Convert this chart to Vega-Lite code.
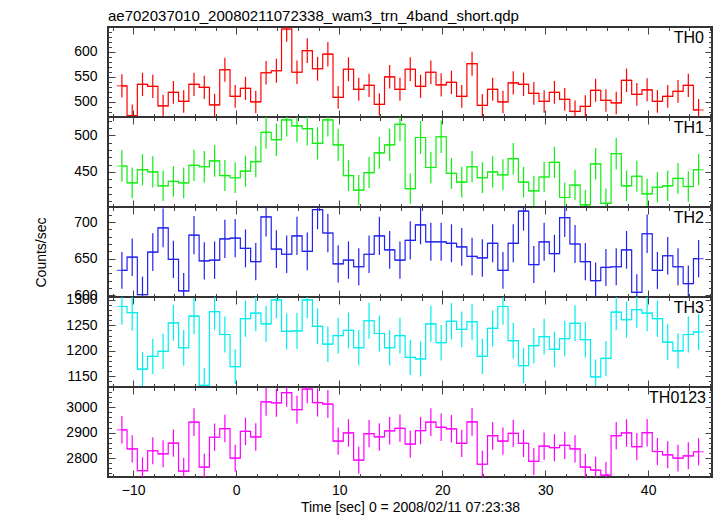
{
"$schema": "https://vega.github.io/schema/vega-lite/v6.json",
"background": "white",
"padding": {"left": 33, "top": 8, "right": 6, "bottom": 1},
"spacing": 0,
"bounds": "flush",
"datasets": {
"th0": [{"t":-11.1,"rate":532,"err":23.1},{"t":-10.1,"rate":473,"err":21.7},{"t":-9.1,"rate":535,"err":23.1},{"t":-8.1,"rate":531,"err":23.0},{"t":-7.1,"rate":492,"err":22.2},{"t":-6.1,"rate":519,"err":22.8},{"t":-5.1,"rate":501,"err":22.4},{"t":-4.1,"rate":535,"err":23.1},{"t":-3.1,"rate":529,"err":23.0},{"t":-2.1,"rate":494,"err":22.2},{"t":-1.1,"rate":564,"err":23.7},{"t":-0.1,"rate":511,"err":22.6},{"t":0.9,"rate":527,"err":23.0},{"t":1.9,"rate":500,"err":22.4},{"t":2.9,"rate":558,"err":23.6},{"t":3.9,"rate":562,"err":23.7},{"t":4.9,"rate":645,"err":25.4},{"t":5.9,"rate":559,"err":23.6},{"t":6.9,"rate":602,"err":24.5},{"t":7.9,"rate":566,"err":23.8},{"t":8.9,"rate":595,"err":24.4},{"t":9.9,"rate":509,"err":22.6},{"t":10.9,"rate":565,"err":23.8},{"t":11.9,"rate":525,"err":22.9},{"t":12.9,"rate":533,"err":23.1},{"t":13.9,"rate":495,"err":22.2},{"t":14.9,"rate":550,"err":23.5},{"t":15.9,"rate":525,"err":22.9},{"t":16.9,"rate":565,"err":23.8},{"t":17.9,"rate":531,"err":23.0},{"t":18.9,"rate":559,"err":23.6},{"t":19.9,"rate":534,"err":23.1},{"t":20.9,"rate":539,"err":23.2},{"t":21.9,"rate":511,"err":22.6},{"t":22.9,"rate":576,"err":24.0},{"t":23.9,"rate":493,"err":22.2},{"t":24.9,"rate":525,"err":22.9},{"t":25.9,"rate":500,"err":22.4},{"t":26.9,"rate":538,"err":23.2},{"t":27.9,"rate":535,"err":23.1},{"t":28.9,"rate":517,"err":22.7},{"t":29.9,"rate":501,"err":22.4},{"t":30.9,"rate":519,"err":22.8},{"t":31.9,"rate":505,"err":22.5},{"t":32.9,"rate":481,"err":21.9},{"t":33.9,"rate":491,"err":22.2},{"t":34.9,"rate":523,"err":22.9},{"t":35.9,"rate":503,"err":22.4},{"t":36.9,"rate":498,"err":22.3},{"t":37.9,"rate":543,"err":23.3},{"t":38.9,"rate":515,"err":22.7},{"t":39.9,"rate":524,"err":22.9},{"t":40.9,"rate":501,"err":22.4},{"t":41.9,"rate":511,"err":22.6},{"t":42.9,"rate":521,"err":22.8},{"t":43.9,"rate":533,"err":23.1},{"t":44.9,"rate":484,"err":22.0}],
"th1": [{"t":-11.1,"rate":458,"err":21.4},{"t":-10.1,"rate":435,"err":20.9},{"t":-9.1,"rate":453,"err":21.3},{"t":-8.1,"rate":450,"err":21.2},{"t":-7.1,"rate":431,"err":20.8},{"t":-6.1,"rate":437,"err":20.9},{"t":-5.1,"rate":435,"err":20.9},{"t":-4.1,"rate":459,"err":21.4},{"t":-3.1,"rate":457,"err":21.4},{"t":-2.1,"rate":465,"err":21.6},{"t":-1.1,"rate":445,"err":21.1},{"t":-0.1,"rate":442,"err":21.0},{"t":0.9,"rate":451,"err":21.2},{"t":1.9,"rate":464,"err":21.5},{"t":2.9,"rate":504,"err":22.4},{"t":3.9,"rate":494,"err":22.2},{"t":4.9,"rate":521,"err":22.8},{"t":5.9,"rate":513,"err":22.6},{"t":6.9,"rate":509,"err":22.6},{"t":7.9,"rate":489,"err":22.1},{"t":8.9,"rate":521,"err":22.8},{"t":9.9,"rate":487,"err":22.1},{"t":10.9,"rate":445,"err":21.1},{"t":11.9,"rate":425,"err":20.6},{"t":12.9,"rate":449,"err":21.2},{"t":13.9,"rate":476,"err":21.8},{"t":14.9,"rate":487,"err":22.1},{"t":15.9,"rate":515,"err":22.7},{"t":16.9,"rate":427,"err":20.7},{"t":17.9,"rate":497,"err":22.3},{"t":18.9,"rate":456,"err":21.4},{"t":19.9,"rate":498,"err":22.3},{"t":20.9,"rate":448,"err":21.2},{"t":21.9,"rate":436,"err":20.9},{"t":22.9,"rate":457,"err":21.4},{"t":23.9,"rate":442,"err":21.0},{"t":24.9,"rate":450,"err":21.2},{"t":25.9,"rate":446,"err":21.1},{"t":26.9,"rate":468,"err":21.6},{"t":27.9,"rate":436,"err":20.9},{"t":28.9,"rate":424,"err":20.6},{"t":29.9,"rate":443,"err":21.0},{"t":30.9,"rate":463,"err":21.5},{"t":31.9,"rate":415,"err":20.4},{"t":32.9,"rate":432,"err":20.8},{"t":33.9,"rate":405,"err":20.1},{"t":34.9,"rate":461,"err":21.5},{"t":35.9,"rate":407,"err":20.2},{"t":36.9,"rate":475,"err":21.8},{"t":37.9,"rate":431,"err":20.8},{"t":38.9,"rate":444,"err":21.1},{"t":39.9,"rate":420,"err":20.5},{"t":40.9,"rate":429,"err":20.7},{"t":41.9,"rate":431,"err":20.8},{"t":42.9,"rate":441,"err":21.0},{"t":43.9,"rate":430,"err":20.7},{"t":44.9,"rate":453,"err":21.3}],
"th2": [{"t":-11.1,"rate":634,"err":25.2},{"t":-10.1,"rate":652,"err":25.5},{"t":-9.1,"rate":601,"err":24.5},{"t":-8.1,"rate":659,"err":25.7},{"t":-7.1,"rate":692,"err":26.3},{"t":-6.1,"rate":649,"err":25.5},{"t":-5.1,"rate":606,"err":24.6},{"t":-4.1,"rate":682,"err":26.1},{"t":-3.1,"rate":647,"err":25.4},{"t":-2.1,"rate":648,"err":25.5},{"t":-1.1,"rate":677,"err":26.0},{"t":-0.1,"rate":678,"err":26.0},{"t":0.9,"rate":664,"err":25.8},{"t":1.9,"rate":646,"err":25.4},{"t":2.9,"rate":707,"err":26.6},{"t":3.9,"rate":663,"err":25.7},{"t":4.9,"rate":656,"err":25.6},{"t":5.9,"rate":681,"err":26.1},{"t":6.9,"rate":660,"err":25.7},{"t":7.9,"rate":717,"err":26.8},{"t":8.9,"rate":685,"err":26.2},{"t":9.9,"rate":643,"err":25.4},{"t":10.9,"rate":648,"err":25.5},{"t":11.9,"rate":639,"err":25.3},{"t":12.9,"rate":656,"err":25.6},{"t":13.9,"rate":681,"err":26.1},{"t":14.9,"rate":662,"err":25.7},{"t":15.9,"rate":648,"err":25.5},{"t":16.9,"rate":675,"err":26.0},{"t":17.9,"rate":696,"err":26.4},{"t":18.9,"rate":673,"err":25.9},{"t":19.9,"rate":673,"err":25.9},{"t":20.9,"rate":671,"err":25.9},{"t":21.9,"rate":666,"err":25.8},{"t":22.9,"rate":653,"err":25.6},{"t":23.9,"rate":651,"err":25.5},{"t":24.9,"rate":671,"err":25.9},{"t":25.9,"rate":634,"err":25.2},{"t":26.9,"rate":671,"err":25.9},{"t":27.9,"rate":715,"err":26.7},{"t":28.9,"rate":642,"err":25.3},{"t":29.9,"rate":673,"err":25.9},{"t":30.9,"rate":657,"err":25.6},{"t":31.9,"rate":706,"err":26.6},{"t":32.9,"rate":670,"err":25.9},{"t":33.9,"rate":646,"err":25.4},{"t":34.9,"rate":620,"err":24.9},{"t":35.9,"rate":638,"err":25.3},{"t":36.9,"rate":639,"err":25.3},{"t":37.9,"rate":662,"err":25.7},{"t":38.9,"rate":604,"err":24.6},{"t":39.9,"rate":684,"err":26.2},{"t":40.9,"rate":634,"err":25.2},{"t":41.9,"rate":654,"err":25.6},{"t":42.9,"rate":639,"err":25.3},{"t":43.9,"rate":616,"err":24.8},{"t":44.9,"rate":650,"err":25.5}],
"th3": [{"t":-11.1,"rate":1287,"err":35.9},{"t":-10.1,"rate":1275,"err":35.7},{"t":-9.1,"rate":1164,"err":34.1},{"t":-8.1,"rate":1189,"err":34.5},{"t":-7.1,"rate":1199,"err":34.6},{"t":-6.1,"rate":1255,"err":35.4},{"t":-5.1,"rate":1206,"err":34.7},{"t":-4.1,"rate":1268,"err":35.6},{"t":-3.1,"rate":1132,"err":33.6},{"t":-2.1,"rate":1277,"err":35.7},{"t":-1.1,"rate":1232,"err":35.1},{"t":-0.1,"rate":1169,"err":34.2},{"t":0.9,"rate":1263,"err":35.5},{"t":1.9,"rate":1274,"err":35.7},{"t":2.9,"rate":1253,"err":35.4},{"t":3.9,"rate":1300,"err":36.1},{"t":4.9,"rate":1238,"err":35.2},{"t":5.9,"rate":1239,"err":35.2},{"t":6.9,"rate":1300,"err":36.1},{"t":7.9,"rate":1248,"err":35.3},{"t":8.9,"rate":1213,"err":34.8},{"t":9.9,"rate":1230,"err":35.1},{"t":10.9,"rate":1240,"err":35.2},{"t":11.9,"rate":1206,"err":34.7},{"t":12.9,"rate":1259,"err":35.5},{"t":13.9,"rate":1234,"err":35.1},{"t":14.9,"rate":1206,"err":34.7},{"t":15.9,"rate":1230,"err":35.1},{"t":16.9,"rate":1187,"err":34.5},{"t":17.9,"rate":1184,"err":34.4},{"t":18.9,"rate":1253,"err":35.4},{"t":19.9,"rate":1216,"err":34.9},{"t":20.9,"rate":1258,"err":35.5},{"t":21.9,"rate":1242,"err":35.2},{"t":22.9,"rate":1257,"err":35.5},{"t":23.9,"rate":1189,"err":34.5},{"t":24.9,"rate":1244,"err":35.3},{"t":25.9,"rate":1287,"err":35.9},{"t":26.9,"rate":1220,"err":34.9},{"t":27.9,"rate":1171,"err":34.2},{"t":28.9,"rate":1210,"err":34.8},{"t":29.9,"rate":1228,"err":35.0},{"t":30.9,"rate":1203,"err":34.7},{"t":31.9,"rate":1224,"err":35.0},{"t":32.9,"rate":1254,"err":35.4},{"t":33.9,"rate":1222,"err":35.0},{"t":34.9,"rate":1149,"err":33.9},{"t":35.9,"rate":1185,"err":34.4},{"t":36.9,"rate":1276,"err":35.7},{"t":37.9,"rate":1261,"err":35.5},{"t":38.9,"rate":1281,"err":35.8},{"t":39.9,"rate":1274,"err":35.7},{"t":40.9,"rate":1263,"err":35.5},{"t":41.9,"rate":1217,"err":34.9},{"t":42.9,"rate":1200,"err":34.6},{"t":43.9,"rate":1232,"err":35.1},{"t":44.9,"rate":1237,"err":35.2}],
"th0123": [{"t":-11.1,"rate":2911,"err":54.0},{"t":-10.1,"rate":2836,"err":53.3},{"t":-9.1,"rate":2751,"err":52.5},{"t":-8.1,"rate":2829,"err":53.2},{"t":-7.1,"rate":2817,"err":53.1},{"t":-6.1,"rate":2859,"err":53.5},{"t":-5.1,"rate":2749,"err":52.4},{"t":-4.1,"rate":2941,"err":54.2},{"t":-3.1,"rate":2765,"err":52.6},{"t":-2.1,"rate":2882,"err":53.7},{"t":-1.1,"rate":2916,"err":54.0},{"t":-0.1,"rate":2800,"err":52.9},{"t":0.9,"rate":2905,"err":53.9},{"t":1.9,"rate":2883,"err":53.7},{"t":2.9,"rate":3021,"err":55.0},{"t":3.9,"rate":3017,"err":54.9},{"t":4.9,"rate":3057,"err":55.3},{"t":5.9,"rate":2990,"err":54.7},{"t":6.9,"rate":3071,"err":55.4},{"t":7.9,"rate":3018,"err":54.9},{"t":8.9,"rate":3012,"err":54.9},{"t":9.9,"rate":2867,"err":53.5},{"t":10.9,"rate":2899,"err":53.8},{"t":11.9,"rate":2792,"err":52.8},{"t":12.9,"rate":2896,"err":53.8},{"t":13.9,"rate":2883,"err":53.7},{"t":14.9,"rate":2907,"err":53.9},{"t":15.9,"rate":2917,"err":54.0},{"t":16.9,"rate":2855,"err":53.4},{"t":17.9,"rate":2908,"err":53.9},{"t":18.9,"rate":2941,"err":54.2},{"t":19.9,"rate":2921,"err":54.0},{"t":20.9,"rate":2915,"err":54.0},{"t":21.9,"rate":2858,"err":53.5},{"t":22.9,"rate":2942,"err":54.2},{"t":23.9,"rate":2776,"err":52.7},{"t":24.9,"rate":2888,"err":53.7},{"t":25.9,"rate":2867,"err":53.5},{"t":26.9,"rate":2897,"err":53.8},{"t":27.9,"rate":2858,"err":53.5},{"t":28.9,"rate":2787,"err":52.8},{"t":29.9,"rate":2847,"err":53.4},{"t":30.9,"rate":2841,"err":53.3},{"t":31.9,"rate":2850,"err":53.4},{"t":32.9,"rate":2836,"err":53.3},{"t":33.9,"rate":2765,"err":52.6},{"t":34.9,"rate":2753,"err":52.5},{"t":35.9,"rate":2733,"err":52.3},{"t":36.9,"rate":2888,"err":53.7},{"t":37.9,"rate":2899,"err":53.8},{"t":38.9,"rate":2845,"err":53.3},{"t":39.9,"rate":2900,"err":53.9},{"t":40.9,"rate":2826,"err":53.2},{"t":41.9,"rate":2813,"err":53.0},{"t":42.9,"rate":2800,"err":52.9},{"t":43.9,"rate":2809,"err":53.0},{"t":44.9,"rate":2825,"err":53.2}]
},
"vconcat": [
{
"data": {"name": "th0"},
"width": 604, "height": 90,
"title": {"text": "ae702037010_20080211072338_wam3_trn_4band_short.qdp", "anchor": "start", "frame": "group", "fontSize": 15, "fontWeight": "normal", "font": "Liberation Sans", "color": "#000", "offset": -10, "baseline": "alphabetic"},
"layer": [
{"mark": {"type": "line", "interpolate": "step", "color": "#ff0000", "strokeWidth": 1.2},
 "encoding": {
  "x": {"field": "t", "type": "quantitative", "scale": {"domain": [-12.45, 46.2], "nice": false, "zero": false}, "axis": null},
  "y": {"field": "rate", "type": "quantitative", "scale": {"domain": [470, 649], "nice": false, "zero": false, "clamp": true}, "axis": {"orient": "left", "values": [500, 550, 600], "format": "d", "ticks": false, "domain": false, "grid": false, "labelFontSize": 14, "labelPadding": 11, "labelColor": "#000", "title": null}}}},
{"mark": {"type": "tick", "orient": "horizontal", "size": 10.3, "thickness": 1.2, "color": "#ff0000"},
 "encoding": {
  "x": {"field": "t", "type": "quantitative", "axis": {"orient": "bottom", "values": [-10, 0, 10, 20, 30, 40], "labels": false, "domain": false, "grid": false, "tickSize": -7, "tickColor": "#444", "title": null}},
  "y": {"field": "rate", "type": "quantitative", "axis": {"orient": "left", "values": [500, 550, 600], "labels": false, "domain": false, "grid": false, "tickSize": -7, "tickColor": "#444", "title": null}}}},
{"mark": {"type": "point", "opacity": 0},
 "encoding": {
  "x": {"field": "t", "type": "quantitative", "axis": {"orient": "top", "values": [-10, 0, 10, 20, 30, 40], "labels": false, "domain": false, "grid": false, "tickSize": -7, "tickColor": "#444", "title": null}},
  "y": {"field": "rate", "type": "quantitative", "axis": {"orient": "right", "values": [500, 550, 600], "labels": false, "domain": false, "grid": false, "tickSize": -7, "tickColor": "#444", "title": null}}}},
{"mark": {"type": "point", "opacity": 0},
 "encoding": {
  "x": {"field": "t", "type": "quantitative", "axis": {"orient": "bottom", "values": [-12, -8, -6, -4, -2, 2, 4, 6, 8, 12, 14, 16, 18, 22, 24, 26, 28, 32, 34, 36, 38, 42, 44, 46], "labels": false, "domain": false, "grid": false, "tickSize": -3.5, "tickColor": "#444", "title": null}},
  "y": {"field": "rate", "type": "quantitative", "axis": {"orient": "left", "values": [480, 490, 510, 520, 530, 540, 560, 570, 580, 590, 610, 620, 630, 640], "labels": false, "domain": false, "grid": false, "tickSize": -3.5, "tickColor": "#444", "title": null}}}},
{"mark": {"type": "point", "opacity": 0},
 "encoding": {
  "x": {"field": "t", "type": "quantitative", "axis": {"orient": "top", "values": [-12, -8, -6, -4, -2, 2, 4, 6, 8, 12, 14, 16, 18, 22, 24, 26, 28, 32, 34, 36, 38, 42, 44, 46], "labels": false, "domain": false, "grid": false, "tickSize": -3.5, "tickColor": "#444", "title": null}},
  "y": {"field": "rate", "type": "quantitative", "axis": {"orient": "right", "values": [480, 490, 510, 520, 530, 540, 560, 570, 580, 590, 610, 620, 630, 640], "labels": false, "domain": false, "grid": false, "tickSize": -3.5, "tickColor": "#444", "title": null}}}},
{"mark": {"type": "errorbar", "color": "#ff0000", "thickness": 1.2},
 "encoding": {
  "x": {"field": "t", "type": "quantitative", "axis": null},
  "y": {"field": "rate", "type": "quantitative", "axis": null},
  "yError": {"field": "err"}}},
{"data": {"values": [{"lab": "TH0"}]},
 "mark": {"type": "text", "align": "right", "baseline": "alphabetic", "dx": -8, "dy": 16, "fontSize": 16, "font": "Liberation Sans", "color": "#000"},
 "encoding": {
  "x": {"datum": 46.2, "type": "quantitative", "axis": null},
  "y": {"datum": 649, "type": "quantitative", "axis": null},
  "text": {"field": "lab"}}}
],
"resolve": {"axis": {"x": "independent", "y": "independent"}}
},
{
"data": {"name": "th1"},
"width": 604, "height": 90,
"layer": [
{"mark": {"type": "line", "interpolate": "step", "color": "#11ee11", "strokeWidth": 1.2},
 "encoding": {
  "x": {"field": "t", "type": "quantitative", "scale": {"domain": [-12.45, 46.2], "nice": false, "zero": false}, "axis": null},
  "y": {"field": "rate", "type": "quantitative", "scale": {"domain": [402, 525], "nice": false, "zero": false, "clamp": true}, "axis": {"orient": "left", "values": [450, 500], "format": "d", "ticks": false, "domain": false, "grid": false, "labelFontSize": 14, "labelPadding": 11, "labelColor": "#000", "title": null}}}},
{"mark": {"type": "tick", "orient": "horizontal", "size": 10.3, "thickness": 1.2, "color": "#11ee11"},
 "encoding": {
  "x": {"field": "t", "type": "quantitative", "axis": {"orient": "bottom", "values": [-10, 0, 10, 20, 30, 40], "labels": false, "domain": false, "grid": false, "tickSize": -7, "tickColor": "#444", "title": null}},
  "y": {"field": "rate", "type": "quantitative", "axis": {"orient": "left", "values": [450, 500], "labels": false, "domain": false, "grid": false, "tickSize": -7, "tickColor": "#444", "title": null}}}},
{"mark": {"type": "point", "opacity": 0},
 "encoding": {
  "x": {"field": "t", "type": "quantitative", "axis": {"orient": "top", "values": [-10, 0, 10, 20, 30, 40], "labels": false, "domain": false, "grid": false, "tickSize": -7, "tickColor": "#444", "title": null}},
  "y": {"field": "rate", "type": "quantitative", "axis": {"orient": "right", "values": [450, 500], "labels": false, "domain": false, "grid": false, "tickSize": -7, "tickColor": "#444", "title": null}}}},
{"mark": {"type": "point", "opacity": 0},
 "encoding": {
  "x": {"field": "t", "type": "quantitative", "axis": {"orient": "bottom", "values": [-12, -8, -6, -4, -2, 2, 4, 6, 8, 12, 14, 16, 18, 22, 24, 26, 28, 32, 34, 36, 38, 42, 44, 46], "labels": false, "domain": false, "grid": false, "tickSize": -3.5, "tickColor": "#444", "title": null}},
  "y": {"field": "rate", "type": "quantitative", "axis": {"orient": "left", "values": [410, 420, 430, 440, 460, 470, 480, 490, 510, 520], "labels": false, "domain": false, "grid": false, "tickSize": -3.5, "tickColor": "#444", "title": null}}}},
{"mark": {"type": "point", "opacity": 0},
 "encoding": {
  "x": {"field": "t", "type": "quantitative", "axis": {"orient": "top", "values": [-12, -8, -6, -4, -2, 2, 4, 6, 8, 12, 14, 16, 18, 22, 24, 26, 28, 32, 34, 36, 38, 42, 44, 46], "labels": false, "domain": false, "grid": false, "tickSize": -3.5, "tickColor": "#444", "title": null}},
  "y": {"field": "rate", "type": "quantitative", "axis": {"orient": "right", "values": [410, 420, 430, 440, 460, 470, 480, 490, 510, 520], "labels": false, "domain": false, "grid": false, "tickSize": -3.5, "tickColor": "#444", "title": null}}}},
{"mark": {"type": "errorbar", "color": "#11ee11", "thickness": 1.2},
 "encoding": {
  "x": {"field": "t", "type": "quantitative", "axis": null},
  "y": {"field": "rate", "type": "quantitative", "axis": null},
  "yError": {"field": "err"}}},
{"data": {"values": [{"lab": "TH1"}]},
 "mark": {"type": "text", "align": "right", "baseline": "alphabetic", "dx": -8, "dy": 16, "fontSize": 16, "font": "Liberation Sans", "color": "#000"},
 "encoding": {
  "x": {"datum": 46.2, "type": "quantitative", "axis": null},
  "y": {"datum": 525, "type": "quantitative", "axis": null},
  "text": {"field": "lab"}}}
],
"resolve": {"axis": {"x": "independent", "y": "independent"}}
},
{
"data": {"name": "th2"},
"width": 604, "height": 90,
"layer": [
{"mark": {"type": "line", "interpolate": "step", "color": "#2222ee", "strokeWidth": 1.2},
 "encoding": {
  "x": {"field": "t", "type": "quantitative", "scale": {"domain": [-12.45, 46.2], "nice": false, "zero": false}, "axis": null},
  "y": {"field": "rate", "type": "quantitative", "scale": {"domain": [597.7, 720.5], "nice": false, "zero": false, "clamp": true}, "axis": {"orient": "left", "values": [600, 650, 700], "format": "d", "ticks": false, "domain": false, "grid": false, "labelFontSize": 14, "labelPadding": 11, "labelColor": "#000", "title": "Counts/sec", "titleFontSize": 14, "titleFontWeight": "normal", "titleColor": "#000", "titleX": -67, "titleY": 45, "titleAngle": -90, "titleAlign": "center", "titleBaseline": "middle"}}}},
{"mark": {"type": "tick", "orient": "horizontal", "size": 10.3, "thickness": 1.2, "color": "#2222ee"},
 "encoding": {
  "x": {"field": "t", "type": "quantitative", "axis": {"orient": "bottom", "values": [-10, 0, 10, 20, 30, 40], "labels": false, "domain": false, "grid": false, "tickSize": -7, "tickColor": "#444", "title": null}},
  "y": {"field": "rate", "type": "quantitative", "axis": {"orient": "left", "values": [600, 650, 700], "labels": false, "domain": false, "grid": false, "tickSize": -7, "tickColor": "#444", "title": null}}}},
{"mark": {"type": "point", "opacity": 0},
 "encoding": {
  "x": {"field": "t", "type": "quantitative", "axis": {"orient": "top", "values": [-10, 0, 10, 20, 30, 40], "labels": false, "domain": false, "grid": false, "tickSize": -7, "tickColor": "#444", "title": null}},
  "y": {"field": "rate", "type": "quantitative", "axis": {"orient": "right", "values": [600, 650, 700], "labels": false, "domain": false, "grid": false, "tickSize": -7, "tickColor": "#444", "title": null}}}},
{"mark": {"type": "point", "opacity": 0},
 "encoding": {
  "x": {"field": "t", "type": "quantitative", "axis": {"orient": "bottom", "values": [-12, -8, -6, -4, -2, 2, 4, 6, 8, 12, 14, 16, 18, 22, 24, 26, 28, 32, 34, 36, 38, 42, 44, 46], "labels": false, "domain": false, "grid": false, "tickSize": -3.5, "tickColor": "#444", "title": null}},
  "y": {"field": "rate", "type": "quantitative", "axis": {"orient": "left", "values": [610, 620, 630, 640, 660, 670, 680, 690, 710, 720], "labels": false, "domain": false, "grid": false, "tickSize": -3.5, "tickColor": "#444", "title": null}}}},
{"mark": {"type": "point", "opacity": 0},
 "encoding": {
  "x": {"field": "t", "type": "quantitative", "axis": {"orient": "top", "values": [-12, -8, -6, -4, -2, 2, 4, 6, 8, 12, 14, 16, 18, 22, 24, 26, 28, 32, 34, 36, 38, 42, 44, 46], "labels": false, "domain": false, "grid": false, "tickSize": -3.5, "tickColor": "#444", "title": null}},
  "y": {"field": "rate", "type": "quantitative", "axis": {"orient": "right", "values": [610, 620, 630, 640, 660, 670, 680, 690, 710, 720], "labels": false, "domain": false, "grid": false, "tickSize": -3.5, "tickColor": "#444", "title": null}}}},
{"mark": {"type": "errorbar", "color": "#2222ee", "thickness": 1.2},
 "encoding": {
  "x": {"field": "t", "type": "quantitative", "axis": null},
  "y": {"field": "rate", "type": "quantitative", "axis": null},
  "yError": {"field": "err"}}},
{"data": {"values": [{"lab": "TH2"}]},
 "mark": {"type": "text", "align": "right", "baseline": "alphabetic", "dx": -8, "dy": 16, "fontSize": 16, "font": "Liberation Sans", "color": "#000"},
 "encoding": {
  "x": {"datum": 46.2, "type": "quantitative", "axis": null},
  "y": {"datum": 720.5, "type": "quantitative", "axis": null},
  "text": {"field": "lab"}}}
],
"resolve": {"axis": {"x": "independent", "y": "independent"}}
},
{
"data": {"name": "th3"},
"width": 604, "height": 90,
"layer": [
{"mark": {"type": "line", "interpolate": "step", "color": "#00eeee", "strokeWidth": 1.2},
 "encoding": {
  "x": {"field": "t", "type": "quantitative", "scale": {"domain": [-12.45, 46.2], "nice": false, "zero": false}, "axis": null},
  "y": {"field": "rate", "type": "quantitative", "scale": {"domain": [1129, 1305.6], "nice": false, "zero": false, "clamp": true}, "axis": {"orient": "left", "values": [1150, 1200, 1250, 1300], "format": "d", "ticks": false, "domain": false, "grid": false, "labelFontSize": 14, "labelPadding": 11, "labelColor": "#000", "title": null}}}},
{"mark": {"type": "tick", "orient": "horizontal", "size": 10.3, "thickness": 1.2, "color": "#00eeee"},
 "encoding": {
  "x": {"field": "t", "type": "quantitative", "axis": {"orient": "bottom", "values": [-10, 0, 10, 20, 30, 40], "labels": false, "domain": false, "grid": false, "tickSize": -7, "tickColor": "#444", "title": null}},
  "y": {"field": "rate", "type": "quantitative", "axis": {"orient": "left", "values": [1150, 1200, 1250, 1300], "labels": false, "domain": false, "grid": false, "tickSize": -7, "tickColor": "#444", "title": null}}}},
{"mark": {"type": "point", "opacity": 0},
 "encoding": {
  "x": {"field": "t", "type": "quantitative", "axis": {"orient": "top", "values": [-10, 0, 10, 20, 30, 40], "labels": false, "domain": false, "grid": false, "tickSize": -7, "tickColor": "#444", "title": null}},
  "y": {"field": "rate", "type": "quantitative", "axis": {"orient": "right", "values": [1150, 1200, 1250, 1300], "labels": false, "domain": false, "grid": false, "tickSize": -7, "tickColor": "#444", "title": null}}}},
{"mark": {"type": "point", "opacity": 0},
 "encoding": {
  "x": {"field": "t", "type": "quantitative", "axis": {"orient": "bottom", "values": [-12, -8, -6, -4, -2, 2, 4, 6, 8, 12, 14, 16, 18, 22, 24, 26, 28, 32, 34, 36, 38, 42, 44, 46], "labels": false, "domain": false, "grid": false, "tickSize": -3.5, "tickColor": "#444", "title": null}},
  "y": {"field": "rate", "type": "quantitative", "axis": {"orient": "left", "values": [1140, 1160, 1170, 1180, 1190, 1210, 1220, 1230, 1240, 1260, 1270, 1280, 1290], "labels": false, "domain": false, "grid": false, "tickSize": -3.5, "tickColor": "#444", "title": null}}}},
{"mark": {"type": "point", "opacity": 0},
 "encoding": {
  "x": {"field": "t", "type": "quantitative", "axis": {"orient": "top", "values": [-12, -8, -6, -4, -2, 2, 4, 6, 8, 12, 14, 16, 18, 22, 24, 26, 28, 32, 34, 36, 38, 42, 44, 46], "labels": false, "domain": false, "grid": false, "tickSize": -3.5, "tickColor": "#444", "title": null}},
  "y": {"field": "rate", "type": "quantitative", "axis": {"orient": "right", "values": [1140, 1160, 1170, 1180, 1190, 1210, 1220, 1230, 1240, 1260, 1270, 1280, 1290], "labels": false, "domain": false, "grid": false, "tickSize": -3.5, "tickColor": "#444", "title": null}}}},
{"mark": {"type": "errorbar", "color": "#00eeee", "thickness": 1.2},
 "encoding": {
  "x": {"field": "t", "type": "quantitative", "axis": null},
  "y": {"field": "rate", "type": "quantitative", "axis": null},
  "yError": {"field": "err"}}},
{"data": {"values": [{"lab": "TH3"}]},
 "mark": {"type": "text", "align": "right", "baseline": "alphabetic", "dx": -8, "dy": 16, "fontSize": 16, "font": "Liberation Sans", "color": "#000"},
 "encoding": {
  "x": {"datum": 46.2, "type": "quantitative", "axis": null},
  "y": {"datum": 1305.6, "type": "quantitative", "axis": null},
  "text": {"field": "lab"}}}
],
"resolve": {"axis": {"x": "independent", "y": "independent"}}
},
{
"data": {"name": "th0123"},
"width": 604, "height": 90,
"layer": [
{"mark": {"type": "line", "interpolate": "step", "color": "#ff00ff", "strokeWidth": 1.2},
 "encoding": {
  "x": {"field": "t", "type": "quantitative", "scale": {"domain": [-12.45, 46.2], "nice": false, "zero": false}, "axis": {"orient": "bottom", "values": [-10, 0, 10, 20, 30, 40], "format": "d", "ticks": false, "domain": false, "grid": false, "labelFontSize": 14, "labelPadding": 6, "labelFlush": false, "labelColor": "#000", "title": "Time [sec] 0 = 2008/02/11 07:23:38", "titleFontSize": 14, "titleFontWeight": "normal", "titleColor": "#000", "titlePadding": 3}},
  "y": {"field": "rate", "type": "quantitative", "scale": {"domain": [2726, 3079], "nice": false, "zero": false, "clamp": true}, "axis": {"orient": "left", "values": [2800, 2900, 3000], "format": "d", "ticks": false, "domain": false, "grid": false, "labelFontSize": 14, "labelPadding": 11, "labelColor": "#000", "title": null}}}},
{"mark": {"type": "tick", "orient": "horizontal", "size": 10.3, "thickness": 1.2, "color": "#ff00ff"},
 "encoding": {
  "x": {"field": "t", "type": "quantitative", "axis": {"orient": "bottom", "values": [-10, 0, 10, 20, 30, 40], "labels": false, "domain": false, "grid": false, "tickSize": -7, "tickColor": "#444", "title": null}},
  "y": {"field": "rate", "type": "quantitative", "axis": {"orient": "left", "values": [2800, 2900, 3000], "labels": false, "domain": false, "grid": false, "tickSize": -7, "tickColor": "#444", "title": null}}}},
{"mark": {"type": "point", "opacity": 0},
 "encoding": {
  "x": {"field": "t", "type": "quantitative", "axis": {"orient": "top", "values": [-10, 0, 10, 20, 30, 40], "labels": false, "domain": false, "grid": false, "tickSize": -7, "tickColor": "#444", "title": null}},
  "y": {"field": "rate", "type": "quantitative", "axis": {"orient": "right", "values": [2800, 2900, 3000], "labels": false, "domain": false, "grid": false, "tickSize": -7, "tickColor": "#444", "title": null}}}},
{"mark": {"type": "point", "opacity": 0},
 "encoding": {
  "x": {"field": "t", "type": "quantitative", "axis": {"orient": "bottom", "values": [-12, -8, -6, -4, -2, 2, 4, 6, 8, 12, 14, 16, 18, 22, 24, 26, 28, 32, 34, 36, 38, 42, 44, 46], "labels": false, "domain": false, "grid": false, "tickSize": -3.5, "tickColor": "#444", "title": null}},
  "y": {"field": "rate", "type": "quantitative", "axis": {"orient": "left", "values": [2740, 2760, 2780, 2820, 2840, 2860, 2880, 2920, 2940, 2960, 2980, 3020, 3040, 3060], "labels": false, "domain": false, "grid": false, "tickSize": -3.5, "tickColor": "#444", "title": null}}}},
{"mark": {"type": "point", "opacity": 0},
 "encoding": {
  "x": {"field": "t", "type": "quantitative", "axis": {"orient": "top", "values": [-12, -8, -6, -4, -2, 2, 4, 6, 8, 12, 14, 16, 18, 22, 24, 26, 28, 32, 34, 36, 38, 42, 44, 46], "labels": false, "domain": false, "grid": false, "tickSize": -3.5, "tickColor": "#444", "title": null}},
  "y": {"field": "rate", "type": "quantitative", "axis": {"orient": "right", "values": [2740, 2760, 2780, 2820, 2840, 2860, 2880, 2920, 2940, 2960, 2980, 3020, 3040, 3060], "labels": false, "domain": false, "grid": false, "tickSize": -3.5, "tickColor": "#444", "title": null}}}},
{"mark": {"type": "errorbar", "color": "#ff00ff", "thickness": 1.2},
 "encoding": {
  "x": {"field": "t", "type": "quantitative", "axis": null},
  "y": {"field": "rate", "type": "quantitative", "axis": null},
  "yError": {"field": "err"}}},
{"data": {"values": [{"lab": "TH0123"}]},
 "mark": {"type": "text", "align": "right", "baseline": "alphabetic", "dx": -6, "dy": 16, "fontSize": 16, "font": "Liberation Sans", "color": "#000"},
 "encoding": {
  "x": {"datum": 46.2, "type": "quantitative", "axis": null},
  "y": {"datum": 3079, "type": "quantitative", "axis": null},
  "text": {"field": "lab"}}}
],
"resolve": {"axis": {"x": "independent", "y": "independent"}}
}
],
"config": {
 "font": "Liberation Sans",
 "view": {"stroke": "#333", "strokeWidth": 2},
 "concat": {"spacing": 0},
 "axis": {"labelFont": "Liberation Sans", "titleFont": "Liberation Sans"}
}
}
